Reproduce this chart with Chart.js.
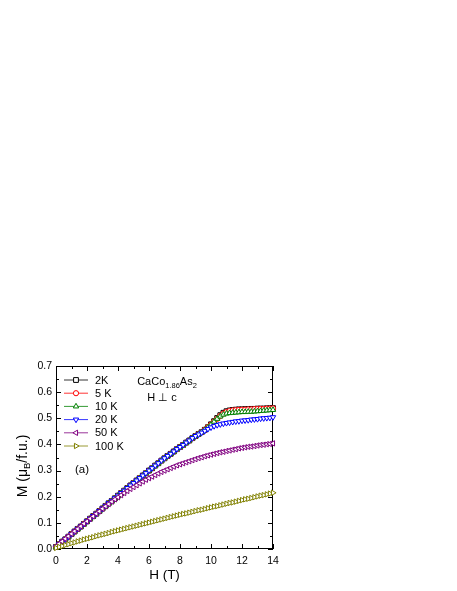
<!DOCTYPE html>
<html><head><meta charset="utf-8">
<script src="https://cdn.jsdelivr.net/npm/chart.js@4.4.1/dist/chart.umd.min.js"></script>
<style>html,body{margin:0;padding:0;background:#fff;}canvas{display:block;}</style>
</head><body>
<canvas id="c" width="457" height="591" style="width:457px;height:591px"></canvas>
<script>
// ---- data (H in tesla, M in muB/f.u.) ----
const fieldT = [0,0.2,0.4,0.6,0.8,1,1.2,1.4,1.6,1.8,2,2.2,2.4,2.6,2.8,3,3.2,3.4,3.6,3.8,4,4.2,4.4,4.6,4.8,5,5.2,5.4,5.6,5.8,6,6.2,6.4,6.6,6.8,7,7.2,7.4,7.6,7.8,8,8.2,8.4,8.6,8.8,9,9.2,9.4,9.6,9.8,10,10.2,10.4,10.6,10.8,11,11.2,11.4,11.6,11.8,12,12.2,12.4,12.6,12.8,13,13.2,13.4,13.6,13.8,14];

const m2K = [0.008,0.018,0.028,0.037,0.047,0.057,0.067,0.077,0.086,0.096,
  0.106,0.116,0.126,0.135,0.145,0.155,0.165,0.175,0.184,0.194,
  0.204,0.214,0.223,0.233,0.243,0.252,0.262,0.271,0.281,0.290,
  0.300,0.309,0.319,0.328,0.338,0.347,0.356,0.364,0.373,0.382,
  0.390,0.398,0.407,0.415,0.424,0.432,0.440,0.447,
  0.456,0.466,0.477,0.489,0.501,0.512,0.521,0.527,0.530,0.532,0.533,0.534,0.534,0.535,0.535,0.536,0.536,0.537,0.537,0.537,0.538,0.538,0.539];

const m5K = [0.008,0.018,0.028,0.037,0.047,0.057,0.067,0.077,0.086,0.096,
  0.106,0.116,0.126,0.135,0.145,0.155,0.165,0.175,0.184,0.194,
  0.204,0.214,0.223,0.233,0.243,0.252,0.262,0.271,0.281,0.290,
  0.300,0.309,0.319,0.328,0.338,0.347,0.356,0.364,0.373,0.382,
  0.390,0.398,0.407,0.415,0.424,0.432,0.440,0.447,
  0.456,0.466,0.476,0.487,0.498,0.509,0.518,0.524,0.528,0.530,0.531,0.532,0.533,0.533,0.534,0.534,0.535,0.535,0.536,0.536,0.537,0.537,0.538];

const m10K = [0.008,0.018,0.028,0.037,0.047,0.057,0.067,0.077,0.086,0.096,
  0.106,0.116,0.126,0.135,0.145,0.155,0.165,0.175,0.184,0.194,
  0.204,0.214,0.223,0.233,0.243,0.252,0.262,0.271,0.281,0.290,
  0.300,0.309,0.319,0.328,0.338,0.347,0.356,0.364,0.373,0.382,
  0.390,0.398,0.407,0.415,0.424,0.432,0.440,0.447,
  0.456,0.465,0.476,0.487,0.498,0.507,0.514,0.518,0.520,0.521,0.522,0.523,0.524,0.524,0.525,0.525,0.526,0.527,0.528,0.529,0.530,0.531,0.532];

const m20K = [0.008,0.018,0.028,0.037,0.047,0.057,0.067,0.077,0.086,0.096,
  0.106,0.116,0.126,0.135,0.145,0.155,0.165,0.175,0.184,0.194,
  0.204,0.214,0.223,0.233,0.243,0.252,0.262,0.271,0.281,0.290,
  0.300,0.309,0.319,0.328,0.338,0.347,0.356,0.364,0.373,0.382,
  0.390,0.398,0.407,0.415,0.424,0.432,
  0.438,0.445,0.452,0.459,0.465,0.470,0.474,0.477,0.480,0.482,0.484,0.486,0.488,0.489,0.491,0.492,0.493,0.495,0.496,0.497,0.499,0.500,0.501,0.502,0.504];

const m50K = [0.010,0.020,0.029,0.039,0.049,0.058,0.068,0.077,0.087,0.097,
  0.106,0.116,0.125,0.135,0.144,0.154,0.163,0.172,0.181,0.190,
  0.198,0.206,0.214,0.222,0.230,0.237,0.244,0.251,0.258,0.265,
  0.271,0.277,0.283,0.289,0.295,0.300,0.305,0.310,0.315,0.320,
  0.324,0.328,0.332,0.336,0.340,0.344,0.348,0.351,0.355,0.358,
  0.361,0.364,0.367,0.370,0.372,0.375,0.377,0.380,0.382,0.385,
  0.387,0.389,0.391,0.392,0.394,0.396,0.398,0.399,0.401,0.402,
  0.404];

const m100K = [0.004,0.008,0.011,0.015,0.018,0.022,0.025,0.029,0.032,0.036,
  0.039,0.042,0.045,0.049,0.052,0.055,0.058,0.061,0.065,0.068,
  0.071,0.074,0.077,0.080,0.083,0.086,0.089,0.092,0.095,0.098,
  0.101,0.104,0.107,0.110,0.113,0.116,0.119,0.122,0.125,0.128,
  0.131,0.134,0.136,0.139,0.142,0.145,0.148,0.150,0.153,0.156,
  0.159,0.162,0.164,0.167,0.170,0.173,0.176,0.178,0.181,0.184,
  0.187,0.190,0.192,0.195,0.198,0.201,0.204,0.206,0.209,0.212,
  0.215];

const seriesLabels = ['2K','5 K','10 K','20 K','50 K','100 K'];
const seriesValues = [m2K, m5K, m10K, m20K, m50K, m100K];
const seriesColors = ['#000000','#ff0000','#008000','#0000ff','#800080','#808000'];
const seriesMarkers = ['rect','circle','triangle','triangle','triangle','triangle'];
const seriesRotation = [0,0,0,180,270,90];
const seriesRadius = [3.4,2.6,3.1,3.1,3.1,3.1];

const FONT = '"Liberation Sans", Arial, Helvetica, sans-serif';

const datasets = seriesValues.map((vals, i) => ({
  label: seriesLabels[i],
  data: fieldT.map((h, k) => ({x: h, y: vals[k]})),
  borderColor: seriesColors[i],
  backgroundColor: '#ffffff',
  borderWidth: 1,
  pointStyle: seriesMarkers[i],
  pointRotation: seriesRotation[i],
  pointRadius: seriesRadius[i],
  pointBorderWidth: 1,
  pointBackgroundColor: '#ffffff',
  pointBorderColor: seriesColors[i],
  tension: 0,
  showLine: true,
  clip: 4,
  order: seriesLabels.length - i
}));

function richWidth(ctx, parts, size, subSize) {
  let w = 0;
  parts.forEach(p => {
    ctx.font = (p.sub ? subSize : size) + 'px ' + FONT;
    w += ctx.measureText(p.t).width;
  });
  return w;
}
function drawRich(ctx, parts, x, y, size, subSize, subDy) {
  let w = richWidth(ctx, parts, size, subSize);
  let cx = x - w / 2;
  ctx.textAlign = 'left';
  ctx.textBaseline = 'middle';
  parts.forEach(p => {
    ctx.font = (p.sub ? subSize : size) + 'px ' + FONT;
    ctx.fillText(p.t, cx, y + (p.sub ? subDy : 0));
    cx += ctx.measureText(p.t).width;
  });
}

const framePlugin = {
  id: 'frame',
  beforeDatasetsDraw(chart) {
    const {ctx, chartArea: a, scales: {x, y}} = chart;
    ctx.save();
    ctx.strokeStyle = '#000';
    ctx.lineWidth = 1;
    ctx.beginPath();
    for (let v = 0; v <= 14; v += 1) {
      const px = Math.round(x.getPixelForValue(v)) + 0.5;
      const len = (v % 2 === 0) ? 5 : 3;
      ctx.moveTo(px, a.bottom); ctx.lineTo(px, a.bottom - len);
      ctx.moveTo(px, a.top); ctx.lineTo(px, a.top + len);
    }
    for (let k = 0; k <= 14; k++) {
      const py = Math.round(y.getPixelForValue(k * 0.05)) + 0.5;
      const len = (k % 2 === 0) ? 5 : 3;
      ctx.moveTo(a.left, py); ctx.lineTo(a.left + len, py);
      ctx.moveTo(a.right, py); ctx.lineTo(a.right - len, py);
    }
    ctx.stroke();
    ctx.strokeRect(a.left + 0.5, a.top + 0.5, a.right - a.left - 1, a.bottom - a.top - 1);
    ctx.restore();
  },
  afterDraw(chart) {
    const ctx = chart.ctx;
    const a = chart.chartArea;
    ctx.save();
    ctx.fillStyle = '#000';
    // legend
    chart.data.datasets.forEach((ds, i) => {
      const yy = 380 + i * 13.2;
      ctx.strokeStyle = ds.borderColor;
      ctx.lineWidth = 0.8;
      ctx.beginPath(); ctx.moveTo(64, yy); ctx.lineTo(88, yy); ctx.stroke();
      ctx.lineWidth = 1;
      ctx.fillStyle = '#ffffff';
      Chart.helpers.drawPoint(ctx, {pointStyle: ds.pointStyle, rotation: ds.pointRotation, radius: ds.pointRadius, borderWidth: 1}, 76, yy);
      ctx.fillStyle = '#000';
      ctx.font = '11px ' + FONT;
      ctx.textAlign = 'left'; ctx.textBaseline = 'middle';
      ctx.fillText(ds.label, 95, yy + 0.5);
    });
    // annotations
    drawRich(ctx, [{t:'CaCo'},{t:'1.86',sub:true},{t:'As'},{t:'2',sub:true}], 167, 382, 11, 7.5, 3.5);
    drawRich(ctx, [{t:'H \u22A5 c'}], 162, 397.5, 11, 8, 0);
    ctx.font = '11.5px ' + FONT; ctx.textAlign = 'left'; ctx.textBaseline = 'middle';
    ctx.fillText('(a)', 75, 469.5);
    // axis titles
    drawRich(ctx, [{t:'H (T)'}], (a.left + a.right) / 2, 575, 13.5, 10, 0);
    ctx.save();
    ctx.translate(23, 466);
    ctx.rotate(-Math.PI / 2);
    drawRich(ctx, [{t:'M ('},{t:'\u03BC'},{t:'B',sub:true},{t:'/f.u.)'}], 0, 0, 14, 9.5, 4);
    ctx.restore();
    ctx.restore();
  }
};

new Chart(document.getElementById('c'), {
  type: 'scatter',
  data: { datasets },
  options: {
    responsive: false,
    animation: false,
    devicePixelRatio: 1,
    layout: { padding: { top: 366, right: 184, left: 0, bottom: 0 } },
    plugins: { legend: { display: false }, tooltip: { enabled: false }, title: { display: false } },
    scales: {
      x: {
        type: 'linear', min: 0, max: 14,
        grid: { display: false, drawTicks: false },
        border: { display: false },
        ticks: { stepSize: 2, color: '#000', padding: 6, maxRotation: 0, autoSkip: false, font: { size: 10.5, family: FONT } },
        afterFit(s) { s.height = 42; }
      },
      y: {
        type: 'linear', min: 0, max: 0.7,
        grid: { display: false, drawTicks: false },
        border: { display: false },
        ticks: { stepSize: 0.1, color: '#000', padding: 4, autoSkip: false, font: { size: 10.5, family: FONT },
          callback: v => Number(v).toFixed(1) },
        afterFit(s) { s.width = 56; }
      }
    }
  },
  plugins: [framePlugin]
});
</script>
</body></html>
